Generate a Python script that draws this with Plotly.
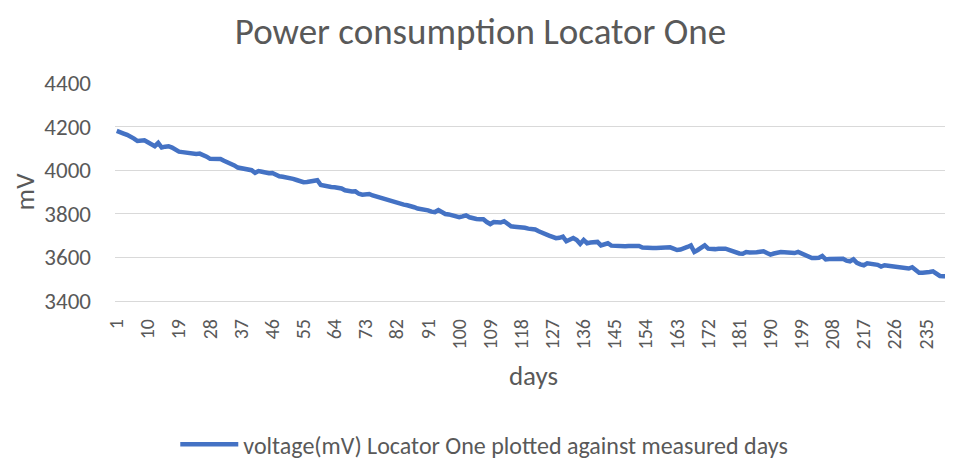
import plotly.graph_objects as go

days = list(range(1, 243))
voltage_mv = [
    4180, 4172, 4168, 4162, 4155, 4145, 4134, 4135, 4137, 4128,
    4118, 4110, 4125, 4104, 4108, 4110, 4104, 4092, 4085, 4083,
    4080, 4076, 4073, 4074, 4076, 4070, 4062, 4052, 4051, 4050,
    4051, 4043, 4036, 4032, 4022, 4012, 4010, 4006, 4003, 4000,
    3988, 3996, 3993, 3988, 3986, 3987, 3978, 3972, 3970, 3968,
    3966, 3960, 3955, 3948, 3945, 3946, 3948, 3952, 3954, 3932,
    3928, 3926, 3923, 3922, 3920, 3916, 3908, 3903, 3902, 3903,
    3892, 3888, 3890, 3891, 3884, 3879, 3876, 3870, 3863, 3858,
    3853, 3848, 3845, 3842, 3839, 3836, 3830, 3824, 3822, 3820,
    3816, 3810, 3808, 3817, 3808, 3799, 3797, 3794, 3790, 3784,
    3788, 3793, 3784, 3778, 3776, 3775, 3775, 3762, 3753, 3762,
    3761, 3760, 3766, 3752, 3743, 3741, 3740, 3741, 3736, 3732,
    3730, 3728, 3720, 3712, 3706, 3700, 3694, 3688, 3690, 3695,
    3674, 3684, 3689, 3680, 3662, 3680, 3665, 3668, 3670, 3671,
    3655, 3662, 3665, 3654, 3652, 3650, 3650, 3651, 3652, 3652,
    3653, 3652, 3645, 3643, 3644, 3643, 3643, 3644, 3645, 3646,
    3646, 3640, 3634, 3636, 3640, 3648, 3655, 3625, 3634, 3643,
    3655, 3640, 3637, 3638, 3640, 3641, 3640, 3635, 3628, 3625,
    3618, 3617, 3625, 3623, 3622, 3624, 3626, 3628, 3620, 3613,
    3618, 3622, 3625, 3624, 3622, 3617, 3620, 3625, 3618, 3613,
    3604, 3597, 3597, 3598, 3606, 3591, 3593, 3594, 3594, 3594,
    3594, 3585, 3582, 3591, 3575, 3568, 3564, 3573, 3571, 3570,
    3566, 3558, 3564, 3562, 3560, 3558, 3558, 3558, 3556, 3549,
    3555, 3542, 3530, 3530, 3530, 3533, 3536, 3525, 3515, 3514,
    3512, 3500,
]
tick_days = list(range(1, 243, 9))
tick_labels = [str(d) for d in tick_days]
y_ticks = [3400, 3600, 3800, 4000, 4200, 4400]

grey = "#595959"
font_family = "Carlito, Calibri, Lato, sans-serif"

# page body has an 8px margin, so the figure is sized 8px smaller
W, H = 945, 452

fig = go.Figure()
fig.add_trace(go.Scatter(
    x=days, y=voltage_mv, mode="lines",
    name="voltage(mV) Locator One plotted against measured days",
    line=dict(color="#4472C4", width=4.5),
))

fig.update_layout(
    width=W, height=H,
    margin=dict(l=107, r=1, t=75, b=159, autoexpand=False),
    paper_bgcolor="white", plot_bgcolor="white",
    font=dict(family=font_family, color=grey),
    title=dict(text="Power consumption Locator One", x=0.5, xref="container",
               xanchor="center", y=0.949, yref="container", yanchor="middle",
               font=dict(size=37, color=grey)),
    showlegend=True,
    legend=dict(orientation="h", x=0.504, xref="container", xanchor="center",
                y=0.034, yref="container", yanchor="middle",
                font=dict(size=24, color=grey), itemwidth=58),
    xaxis=dict(
        range=[0.5, 242.5], tickmode="array", tickvals=tick_days,
        ticktext=[t + "\u00a0\u00a0" for t in tick_labels],
        tickangle=-90, tickfont=dict(size=20, color=grey), showgrid=False,
        showline=True, linecolor="#D9D9D9", linewidth=1, ticks="", zeroline=False,
        automargin=False,
        title=dict(text="days", font=dict(size=27, color=grey), standoff=17),
    ),
    yaxis=dict(
        range=[3400, 4400], tickmode="array", tickvals=y_ticks,
        tickfont=dict(size=23, color=grey), showgrid=True, gridcolor="#D9D9D9",
        gridwidth=1, zeroline=False, ticks="", automargin=True, ticklabelstandoff=23,
        title=dict(text="mV", font=dict(size=27, color=grey), standoff=12),
    ),
)

fig.write_html("out.html")
